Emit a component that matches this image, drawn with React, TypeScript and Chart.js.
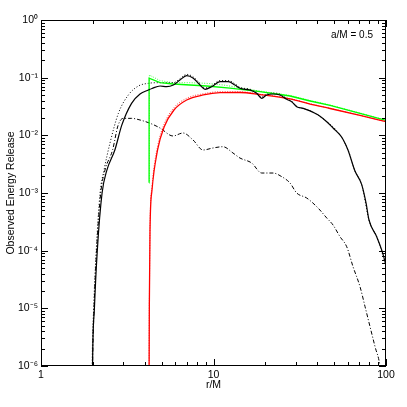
import React, { useEffect, useRef } from "react";
import { Chart, registerables } from "chart.js";

Chart.register(...registerables);

// ---------- data ----------
const rSolid = [1.98, 1.99, 2.04, 2.12, 2.26, 2.41, 2.68, 2.94, 3.35, 3.75, 4.19, 4.4, 4.9, 5.35, 5.85, 6.39, 6.99, 7.64, 8.35, 8.93, 9.76, 10.9, 12.18, 13.32, 14.24, 16.28, 17.8, 19.03, 20.34, 22.22, 24.3, 26.57, 28.4, 30.36, 33.16, 36.26, 38.76, 41.44, 45.32, 49.5, 54.1, 56.6, 60.2, 66.1, 72.3, 76.6, 79.7, 88.3, 94.4, 100];
const eSolid = [1e-7, 1e-6, 1e-5, 1e-4, 1e-3, 2.5e-3, 5.57e-3, 0.015, 0.0359, 0.052, 0.0611, 0.065, 0.0717, 0.0697, 0.0746, 0.0911, 0.1081, 0.0975, 0.0746, 0.0629, 0.0697, 0.0851, 0.0851, 0.0746, 0.0654, 0.0611, 0.0536, 0.0439, 0.0501, 0.0521, 0.0501, 0.0422, 0.0383, 0.0314, 0.0294, 0.0266, 0.0241, 0.0215, 0.01724, 0.01325, 0.01014, 0.0083, 0.00557, 0.0024, 0.0014, 6.71e-4, 3.4e-4, 1.75e-4, 1.03e-4, 5.64e-5];

const rDotted = [1.97, 1.98, 2.02, 2.09, 2.2, 2.32, 2.51, 2.81, 3.21, 3.67, 4.19, 4.9, 5.85, 6.39, 6.99, 7.64, 8.35, 8.93, 9.76, 10.9, 12.18, 13.32, 14.24, 16.28, 17.8, 19.03, 20.34, 22.22, 24.3, 26.57, 28.4, 30.36, 36.26, 45.32, 54.1, 60.2, 66.1, 72.3, 79.7, 88.3, 100];
const eDotted = [1e-7, 1e-6, 1e-5, 1e-4, 1e-3, 2.5e-3, 7.3e-3, 0.0241, 0.0501, 0.0717, 0.0798, 0.0818, 0.0818, 0.096, 0.114, 0.103, 0.079, 0.066, 0.073, 0.089, 0.089, 0.078, 0.068, 0.063, 0.056, 0.046, 0.052, 0.054, 0.052, 0.044, 0.039, 0.032, 0.0268, 0.01735, 0.0102, 0.0056, 0.0024, 0.0014, 3.4e-4, 1.75e-4, 5.64e-5];

const rDashDot = [1.97, 1.99, 2.03, 2.1, 2.22, 2.35, 2.6, 2.8, 3.0, 3.35, 3.75, 4.285, 4.9, 5.82, 6.66, 7.61, 8.69, 9.93, 11.35, 12.97, 14.24, 16.65, 19.03, 22.13, 24.86, 27.77, 30.36, 34.7, 40.35, 45.32, 49.3, 54.1, 59.2, 64.4, 70.7, 75.6, 80.8, 86.4, 92.3, 94];
const eDashDot = [1e-7, 1e-6, 1e-5, 1e-4, 1e-3, 2.5e-3, 5.57e-3, 0.015, 0.0197, 0.0197, 0.01845, 0.0162, 0.0134, 0.00974, 0.01098, 0.0083, 0.00557, 0.00603, 0.00635, 0.00494, 0.00404, 0.00331, 0.00222, 0.00222, 0.00192, 0.00149, 0.001, 8.19e-4, 5.5e-4, 3.69e-4, 2.79e-4, 1.75e-4, 1.17e-4, 5.27e-5, 2.37e-5, 1.07e-5, 4.8e-6, 2.16e-6, 1e-6, 6e-7];

const rRed = [4.234, 4.235, 4.25, 4.285, 4.4, 4.74, 5.18, 5.9, 6.99, 8.73, 10.9, 14.24, 18.6, 27.8, 36.3, 47.4, 70.7, 100];
const eRed = [1e-7, 1e-6, 1.4e-5, 2.28e-4, 1.13e-3, 5.57e-3, 0.0141, 0.0275, 0.041, 0.0501, 0.0549, 0.0553, 0.0508, 0.0427, 0.0349, 0.0292, 0.0221, 0.01724];
const eRedDotted = [1e-7, 1e-6, 1.6e-5, 2.6e-4, 1.3e-3, 6.4e-3, 0.0158, 0.0302, 0.0439, 0.0526, 0.0571, 0.057, 0.0518, 0.0434, 0.0353, 0.0294, 0.0222, 0.0173];

const rGreen = [4.233, 4.2331, 4.9, 5.85, 9.13, 12.46, 18.6, 27.8, 36.3, 47.4, 70.7, 100];
const eGreen = [1.5e-3, 0.098, 0.0818, 0.0776, 0.0717, 0.066, 0.0571, 0.0481, 0.0394, 0.033, 0.0241, 0.0181];

const rGreenDotted = [4.25, 4.2501, 4.9, 5.85, 7.3, 9.13, 11.4, 14.24, 18.6, 27.8, 36.3, 47.4, 70.7, 100];
const eGreenDotted = [1.6e-3, 0.111, 0.0889, 0.0818, 0.0818, 0.0798, 0.0746, 0.0668, 0.0585, 0.0492, 0.0402, 0.0336, 0.0244, 0.0183];

const xTickValues = [1, 10, 100];
const yTickValues = [1e-6, 1e-5, 1e-4, 1e-3, 1e-2, 1e-1, 1];
const xTitle = "r/M";
const yTitle = "Observed Energy Release";
const annotationText = "a/M = 0.5";

// ---------- helpers ----------
const SUP: Record<string, string> = {
  "-": "\u207B", "0": "\u2070", "1": "\u00B9", "2": "\u00B2", "3": "\u00B3",
  "4": "\u2074", "5": "\u2075", "6": "\u2076", "7": "\u2077", "8": "\u2078", "9": "\u2079",
};
function pow10Label(v: number): string {
  const e = Math.round(Math.log10(v));
  return "10" + String(e).split("").map((c) => SUP[c] || c).join("");
}
function pts(xs: number[], ys: number[]) {
  return xs.map((x, i) => ({ x, y: ys[i] }));
}

const FONT = "'Liberation Sans', Arial, Helvetica, sans-serif";

const boxTicksPlugin = {
  id: "boxTicks",
  afterDraw(chart: any) {
    const { ctx, chartArea: a, scales } = chart;
    const xs = scales.x;
    const ys = scales.y;
    const majorLen = 7;
    const minorLen = 4;
    ctx.save();
    ctx.strokeStyle = "#000";
    ctx.lineWidth = 1;
    ctx.strokeRect(Math.round(a.left) + 0.5, Math.round(a.top) + 0.5, Math.round(a.right - a.left) - 1, Math.round(a.bottom - a.top) - 1);
    ctx.beginPath();
    for (let d = xs.min; d < xs.max * 1.0001; d *= 10) {
      for (let m = 1; m <= 9; m++) {
        const v = d * m;
        if (v > xs.max * 1.0001) break;
        const px = Math.round(xs.getPixelForValue(v)) + 0.5;
        const len = m === 1 ? majorLen : minorLen;
        ctx.moveTo(px, a.bottom);
        ctx.lineTo(px, a.bottom - len);
        ctx.moveTo(px, a.top);
        ctx.lineTo(px, a.top + len);
      }
    }
    for (let d = ys.min; d < ys.max * 1.0001; d *= 10) {
      for (let m = 1; m <= 9; m++) {
        const v = d * m;
        if (v > ys.max * 1.0001) break;
        const py = Math.round(ys.getPixelForValue(v)) + 0.5;
        const len = m === 1 ? majorLen : minorLen;
        ctx.moveTo(a.left, py);
        ctx.lineTo(a.left + len, py);
        ctx.moveTo(a.right, py);
        ctx.lineTo(a.right - len, py);
      }
    }
    ctx.stroke();
    ctx.fillStyle = "#000";
    ctx.font = `10px ${FONT}`;
    ctx.textAlign = "right";
    ctx.textBaseline = "middle";
    ctx.fillText(annotationText, a.right - 13, a.top + 15);
    ctx.restore();
  },
};

export default function App() {
  const canvasRef = useRef<HTMLCanvasElement | null>(null);

  useEffect(() => {
    document.body.style.margin = "0";
    const canvas = canvasRef.current;
    if (!canvas) return;
    Chart.defaults.font.family = FONT;
    Chart.defaults.color = "#000";

    const line = (data: any, color: string, width: number, dash: number[], smooth: boolean) => ({
      data,
      borderColor: color,
      backgroundColor: color,
      borderWidth: width,
      borderDash: dash,
      pointRadius: 0,
      tension: smooth ? 0.4 : 0,
      cubicInterpolationMode: smooth ? "monotone" : "default",
      fill: false,
    });

    const chart = new Chart(canvas, {
      type: "line",
      data: {
        datasets: [
          line(pts(rSolid, eSolid), "#000000", 1.2, [], true),
          line(pts(rRed, eRed), "#ff0000", 1.3, [], true),
          line(pts(rGreen, eGreen), "#00ff00", 1.3, [], false),
          line(pts(rDotted, eDotted), "#000000", 1, [1, 2], true),
          line(pts(rRed, eRedDotted), "#ff4040", 1, [1, 1.5], true),
          line(pts(rGreenDotted, eGreenDotted), "#40ff40", 1, [1, 1.5], false),
          line(pts(rDashDot, eDashDot), "#000000", 1, [4, 2, 1, 2], true),
        ] as any,
      },
      options: {
        animation: false,
        responsive: false,
        devicePixelRatio: 1,
        parsing: false as any,
        layout: { padding: { top: 20, right: 21, left: 0, bottom: 0 } },
        plugins: { legend: { display: false }, tooltip: { enabled: false } },
        scales: {
          x: {
            type: "logarithmic",
            min: 1,
            max: 100,
            grid: { display: false, drawTicks: false },
            border: { display: false },
            afterBuildTicks: (s: any) => {
              s.ticks = xTickValues.map((v) => ({ value: v }));
            },
            afterFit: (s: any) => {
              s.height = 41;
            },
            ticks: {
              autoSkip: false,
              maxRotation: 0,
              padding: 3,
              font: { size: 10.5 },
              callback: (v: any) => String(v),
            },
            title: { display: true, text: xTitle, font: { size: 10.5 }, padding: { top: 0, bottom: 16 } },
          },
          y: {
            type: "logarithmic",
            min: 1e-6,
            max: 1,
            grid: { display: false, drawTicks: false },
            border: { display: false },
            afterBuildTicks: (s: any) => {
              s.ticks = yTickValues.map((v) => ({ value: v }));
            },
            afterFit: (s: any) => {
              s.width = 41;
            },
            ticks: {
              autoSkip: false,
              padding: 3,
              font: { size: 10.5 },
              callback: (v: any) => pow10Label(Number(v)),
            },
            title: { display: true, text: yTitle, font: { size: 10.5 }, padding: { top: 4.5, bottom: 0 } },
          },
        },
      },
      plugins: [boxTicksPlugin],
    });
    return () => chart.destroy();
  }, []);

  return (
    <div style={{ width: 407, height: 407, background: "#fff" }}>
      <canvas ref={canvasRef} width={407} height={407} style={{ width: 407, height: 407, display: "block" }} />
    </div>
  );
}
